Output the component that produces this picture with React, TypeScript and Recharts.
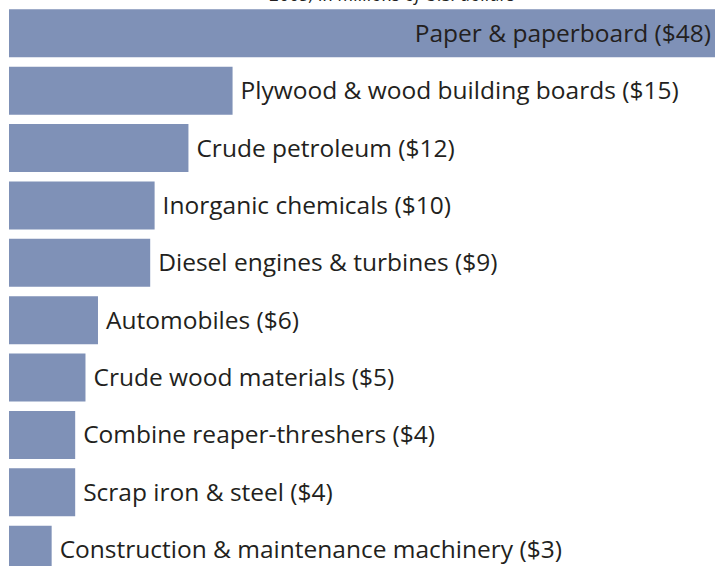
import React from 'react';
import { BarChart, Bar, XAxis, YAxis, LabelList } from 'recharts';

const categories = [
  'Paper & paperboard',
  'Plywood & wood building boards',
  'Crude petroleum',
  'Inorganic chemicals',
  'Diesel engines & turbines',
  'Automobiles',
  'Crude wood materials',
  'Combine reaper-threshers',
  'Scrap iron & steel',
  'Construction & maintenance machinery',
];
const values = [48, 15.2, 12.2, 9.9, 9.6, 6.05, 5.2, 4.5, 4.5, 2.9];
const shownValues = [48, 15, 12, 10, 9, 6, 5, 4, 4, 3];

const subtitle = '2005, in millions of U.S. dollars';

const chartData = categories.map((name, i) => ({
  name,
  value: values[i],
  label: `${name} ($${shownValues[i]})`,
}));

const FONT = '"Open Sans", sans-serif';
const TEXT = '#231f20';

const BarLabel = (props: any) => {
  const { x, y, width, height, value, index } = props;
  const inside = index === 0;
  return (
    <text
      x={inside ? x + width - 4 : x + width + 8}
      y={y + height / 2}
      dy="0.35em"
      textAnchor={inside ? 'end' : 'start'}
      fill={TEXT}
      fontSize={24.5}
      fontFamily={FONT}
    >
      {value}
    </text>
  );
};

export default function App() {
  return (
    <div style={{ position: 'absolute', left: 0, top: 0, width: 716, height: 566, overflow: 'hidden', background: '#fff' }}>
      <div
        style={{
          position: 'absolute',
          left: 250,
          top: -16,
          width: 285,
          textAlign: 'center',
          fontFamily: FONT,
          fontStyle: 'italic',
          fontSize: 18,
          color: TEXT,
          whiteSpace: 'nowrap',
          lineHeight: '20px',
        }}
      >
        {subtitle}
      </div>
      <BarChart
        width={716}
        height={578}
        data={chartData}
        layout="vertical"
        margin={{ top: 4.3, right: 1, bottom: 0, left: 9 }}
        barSize={48}
      >
        <XAxis type="number" domain={[0, 48]} hide />
        <YAxis type="category" dataKey="name" hide />
        <Bar dataKey="value" fill="#7f91b7" isAnimationActive={false}>
          <LabelList dataKey="label" content={BarLabel} />
        </Bar>
      </BarChart>
    </div>
  );
}
